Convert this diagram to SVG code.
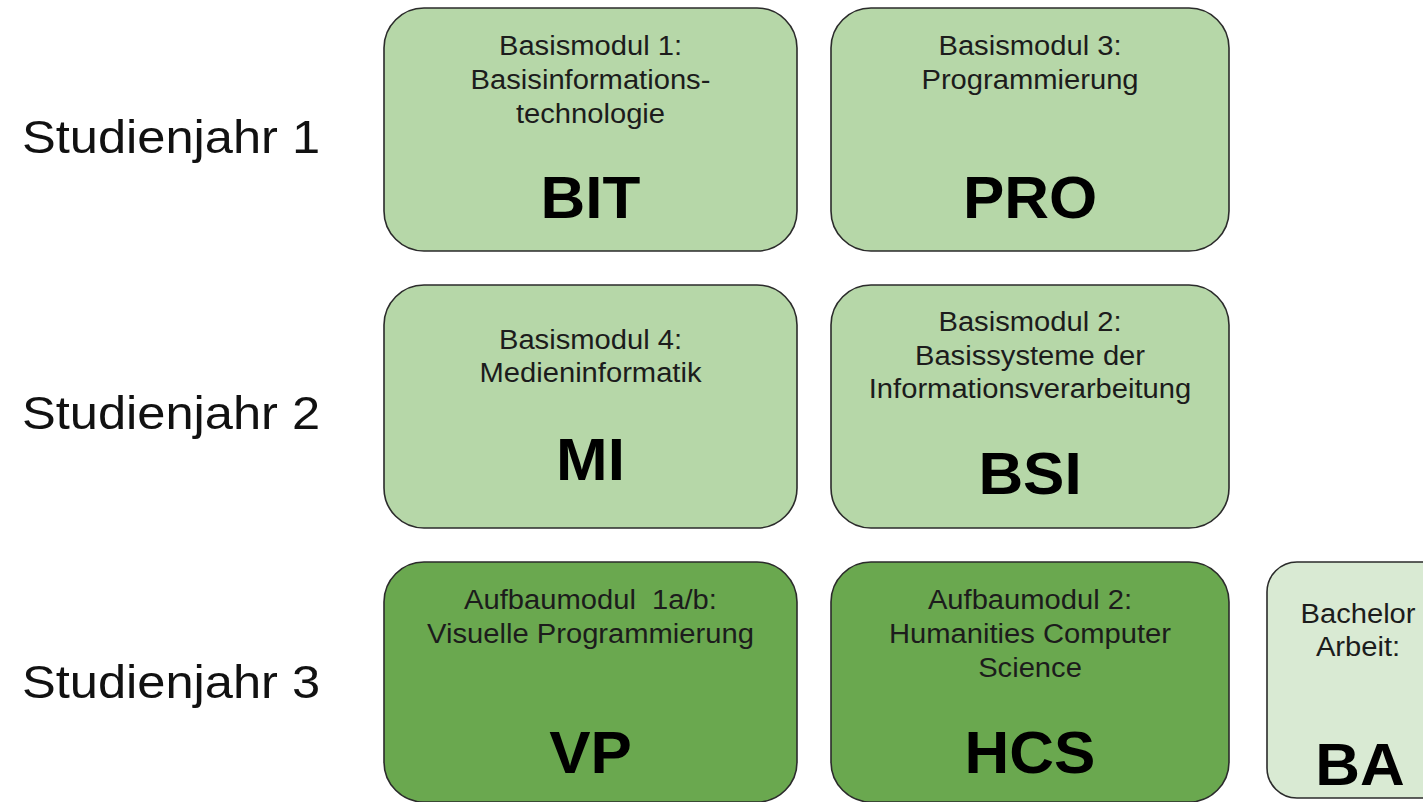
<svg xmlns="http://www.w3.org/2000/svg" width="1423" height="802" viewBox="0 0 1423 802">
<style>
.box{stroke:#2b2b2b;stroke-width:1.6}
.l1{fill:#b6d7a8}
.l2{fill:#6aa84f}
.l3{fill:#d9ead3}
text{font-family:"Liberation Sans",Arial,sans-serif}
.s{font-size:27px;fill:#1c1c1c;text-anchor:middle}
.b{font-size:59px;font-weight:bold;fill:#000;text-anchor:middle}
.y{font-size:46px;fill:#111}
</style>
<rect width="1423" height="802" fill="#ffffff"/>
<g id="rowlabels">
<text class="y" transform="translate(22,153) scale(1.1,1)">Studienjahr 1</text>
<text class="y" transform="translate(22,429) scale(1.1,1)">Studienjahr 2</text>
<text class="y" transform="translate(22,698) scale(1.1,1)">Studienjahr 3</text>
</g>
<g id="BIT">
<rect class="box l1" x="384" y="8" width="413" height="243" rx="40"/>
<text class="s" transform="translate(590.5,55) scale(1.08,1)">Basismodul 1:</text>
<text class="s" transform="translate(590.5,89) scale(1.08,1)">Basisinformations-</text>
<text class="s" transform="translate(590.5,123) scale(1.08,1)">technologie</text>
<text class="b" transform="translate(590.5,218) scale(1.05,1)">BIT</text>
</g>
<g id="PRO">
<rect class="box l1" x="831" y="8" width="398" height="243" rx="40"/>
<text class="s" transform="translate(1030,55) scale(1.08,1)">Basismodul 3:</text>
<text class="s" transform="translate(1030,89) scale(1.08,1)">Programmierung</text>
<text class="b" transform="translate(1030,218) scale(1.05,1)">PRO</text>
</g>
<g id="MI">
<rect class="box l1" x="384" y="285" width="413" height="243" rx="40"/>
<text class="s" transform="translate(590.5,349) scale(1.08,1)">Basismodul 4:</text>
<text class="s" transform="translate(590.5,382) scale(1.08,1)">Medieninformatik</text>
<text class="b" transform="translate(590.5,480) scale(1.05,1)">MI</text>
</g>
<g id="BSI">
<rect class="box l1" x="831" y="285" width="398" height="243" rx="40"/>
<text class="s" transform="translate(1030,331) scale(1.08,1)">Basismodul 2:</text>
<text class="s" transform="translate(1030,365) scale(1.08,1)">Basissysteme der</text>
<text class="s" transform="translate(1030,398) scale(1.08,1)">Informationsverarbeitung</text>
<text class="b" transform="translate(1030,494) scale(1.05,1)">BSI</text>
</g>
<g id="VP">
<rect class="box l2" x="384" y="562" width="413" height="240" rx="40"/>
<text class="s" transform="translate(590.5,609) scale(1.08,1)" xml:space="preserve">Aufbaumodul  1a/b:</text>
<text class="s" transform="translate(590.5,643) scale(1.08,1)">Visuelle Programmierung</text>
<text class="b" transform="translate(590.5,773) scale(1.05,1)">VP</text>
</g>
<g id="HCS">
<rect class="box l2" x="831" y="562" width="398" height="240" rx="40"/>
<text class="s" transform="translate(1030,609) scale(1.08,1)">Aufbaumodul 2:</text>
<text class="s" transform="translate(1030,643) scale(1.08,1)">Humanities Computer</text>
<text class="s" transform="translate(1030,677) scale(1.08,1)">Science</text>
<text class="b" transform="translate(1030,773) scale(1.05,1)">HCS</text>
</g>
<g id="BA">
<rect class="box l3" x="1267" y="562" width="190" height="236" rx="30"/>
<text class="s" transform="translate(1358,623) scale(1.08,1)">Bachelor</text>
<text class="s" transform="translate(1358,656) scale(1.08,1)">Arbeit:</text>
<text class="b" transform="translate(1360,785) scale(1.05,1)">BA</text>
</g>
<g id="connectors"/>
</svg>
